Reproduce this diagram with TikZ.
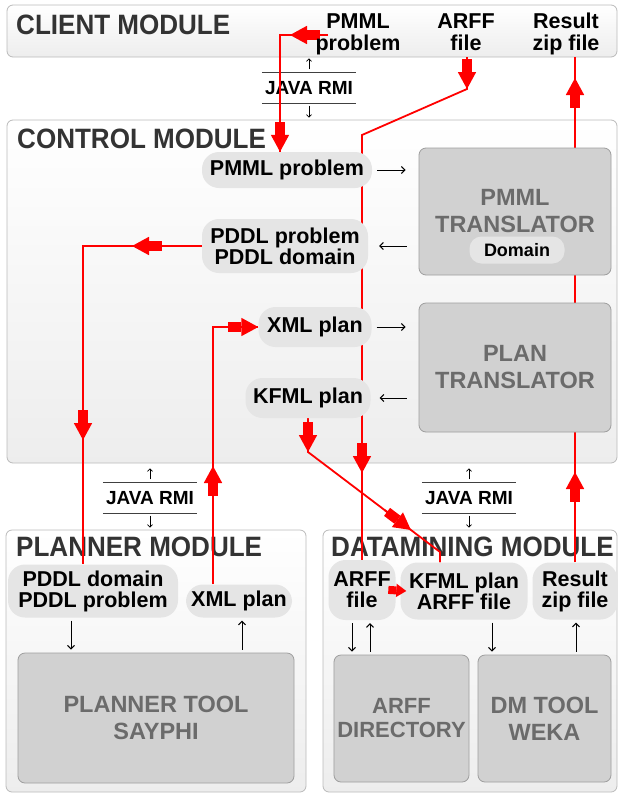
\documentclass[tikz,border=0pt]{standalone}
\usepackage{fontspec}
\setmainfont{Liberation Sans}
\newfontfamily\titlefont{Liberation Sans}[FakeStretch=0.93]
\usetikzlibrary{arrows.meta, positioning, calc}
\pgfdeclarelayer{back}
\pgfdeclarelayer{mid}
\pgfsetlayers{back,mid,main}

\begin{document}
\begin{tikzpicture}[
    x=1pt, y=-1pt,
    module/.style={draw=black!27, line width=0.8pt, rounded corners=6pt, top color=white, bottom color=black!7},
    modtitle/.style={anchor=west, inner sep=0pt, text=black!80, font=\titlefont\fontsize{28}{28}\selectfont\bfseries},
    plain/.style={align=center, inner sep=0pt, font=\fontsize{21.5}{22}\selectfont\bfseries},
    bubble/.style={fill=black!10, rounded corners=17pt, align=center, inner sep=2pt, font=\fontsize{21.5}{21}\selectfont\bfseries},
    tool/.style={draw=black!38, fill=black!18, line width=0.8pt, rounded corners=7pt, align=center, text=black!58, font=\fontsize{23.5}{27}\selectfont\bfseries},
    rmi/.style={minimum width=94pt, minimum height=31pt, inner sep=0pt, font=\fontsize{19}{19}\selectfont\bfseries},
    wire/.style={red, line width=1.8pt},
    fat/.style={red, line width=1.8pt, -{Rectangle[length=13pt,width=10pt,sep=0pt]Triangle[length=17pt,width=18pt]}},
    flow/.style={line width=1pt, shorten <=3pt, shorten >=3pt, -{Straight Barb[length=3.5pt,width=7pt]}},
    tick/.style={line width=0.8pt, -{Straight Barb[length=2.5pt,width=5pt]}}
]
\useasboundingbox (0,0) rectangle (619,793);

\begin{pgfonlayer}{back}
\node[module, minimum width=610pt, minimum height=52pt] (client) at (312,31) {};
\node[module, minimum width=610pt, minimum height=343pt] (control) at (312,291.5) {};
\node[module, minimum width=300pt, minimum height=262pt] (planner) at (156,661) {};
\node[module, minimum width=294pt, minimum height=262pt] (dmining) at (470,661) {};
\node[modtitle] (clientT) at (16,25) {CLIENT MODULE};
\node[modtitle] (controlT) at (17,139) {CONTROL MODULE};
\node[modtitle] (plannerT) at (16,547) {PLANNER MODULE};
\node[modtitle] (dminingT) at (331,547) {DATAMINING MODULE};
\node[rmi] (rmiT) at (309,88) {JAVA RMI};
\node[rmi] (rmiL) at (150,498) {JAVA RMI};
\node[rmi] (rmiR) at (469,498) {JAVA RMI};
\foreach \r in {rmiT,rmiL,rmiR} {
  \draw[black!75, line width=1pt] (\r.north west) -- (\r.north east) (\r.south west) -- (\r.south east);
  \draw[tick] ([yshift=3pt]\r.north) -- ++(0,-11);
  \draw[tick] ([yshift=-2pt]\r.south) -- ++(0,12);
}
\end{pgfonlayer}

\node[plain] (pmmlCl) at (358,34) {PMML\\problem};
\node[plain] (arffCl) at (466,32) {ARFF\\file};
\node[plain] (resCl) at (566,34) {Result\\zip file};

\node[bubble, minimum width=170pt, minimum height=36pt] (pmmlP) at (287,170) {PMML problem};
\node[bubble, minimum width=166pt, minimum height=54pt] (pddl) at (285,246) {PDDL problem\\PDDL domain};
\node[bubble, minimum width=113pt, minimum height=40pt] (xmlC) at (315,327) {XML plan};
\node[bubble, minimum width=125pt, minimum height=40pt] (kfmlC) at (308,398) {KFML plan};
\node[tool, minimum width=192pt, minimum height=127pt] (pmmlT) at (515,211.5) {PMML\\TRANSLATOR};
\node[bubble, minimum width=95pt, minimum height=27pt, rounded corners=12pt, font=\fontsize{18}{18}\selectfont\bfseries] (domain) at (517,250) {Domain};
\node[tool, minimum width=192pt, minimum height=129pt] (planT) at (515,367.5) {PLAN\\TRANSLATOR};

\node[bubble, minimum width=170pt, minimum height=53pt] (pddlP) at (93,591) {PDDL domain\\PDDL problem};
\node[bubble, minimum width=106pt, minimum height=33pt] (xmlP) at (239,601) {XML plan};
\node[tool, minimum width=276pt, minimum height=130pt] (sayphi) at (156,718) {PLANNER TOOL\\SAYPHI};

\node[bubble, minimum width=67pt, minimum height=60pt] (arffD) at (362,590) {ARFF\\file};
\node[bubble, minimum width=127pt, minimum height=57pt] (kfmlD) at (464,591) {KFML plan\\ARFF file};
\node[bubble, minimum width=85pt, minimum height=57pt] (resD) at (575,591) {Result\\zip file};
\node[tool, minimum width=133pt, minimum height=127pt, font=\fontsize{22}{24}\selectfont\bfseries] (arffdir) at (401.5,718.5) {ARFF\\DIRECTORY};
\node[tool, minimum width=133pt, minimum height=127pt] (weka) at (544.5,718.5) {DM TOOL\\WEKA};

\begin{pgfonlayer}{mid}
% client -> control
\coordinate (pS) at (328,35);
\coordinate (pA) at (280,35);
\draw[wire] (pS) -- (pA) -- (pA |- pmmlP.north);
\draw[fat] (pS) -- ++(-38,0);
\draw[fat] (280,118) -- (pA |- pmmlP.north);
\coordinate (aS) at (467,57);
\coordinate (aA) at (467,89);
\coordinate (aB) at (362,135);
\draw[wire] (aS) -- (aA) -- (aB) -- (aB |- arffD.north);
\draw[fat] (aS) -- (aA);
\draw[fat] (362,444) -- (362,473);
\coordinate (rS) at (575,57);
\draw[wire] (resD.north) -- (rS);
\draw[fat] (575,112) -- (575,78);
\draw[fat] (575,498) -- (575,472);
% control <-> planner
\coordinate (dA) at (83,246);
\draw[wire] (pddl.west) -- (dA) -- (dA |- pddlP.north);
\draw[fat] (165,246) -- (132,246);
\draw[fat] (83,412) -- (83,440);
\coordinate (xA) at (213,327);
\draw[wire] (xA |- xmlP.north) -- (xA) -- (xmlC.west);
\draw[fat] (213,495) -- (213,466);
\draw[fat] (220,327) -- (xmlC.west);
% control -> datamining
\coordinate (kA) at (308,452);
\coordinate (kB) at (440,552);
\draw[wire] (kfmlC.south) -- (kA) -- (kB) -- (kB |- kfmlD.north);
\draw[fat] (kfmlC.south) -- (kA);
\draw[fat] ($(kA)!0.58!(kB)$) -- ($(kA)!0.78!(kB)$);
\end{pgfonlayer}

\draw[red, line width=1.5pt, -{Rectangle[length=8pt,width=8pt,sep=0pt]Triangle[length=10pt,width=13pt]}] ([xshift=-6pt]arffD.east) -- ([xshift=6pt]kfmlD.west);

\draw[flow, shorten <=5pt, shorten >=13pt] (pmmlP.east) -- (pmmlP.east -| pmmlT.west);
\draw[flow, shorten <=12pt, shorten >=11pt] (pmmlT.west |- pddl.east) -- (pddl.east);
\draw[flow, shorten <=5pt, shorten >=13pt] (xmlC.east) -- (xmlC.east -| planT.west);
\draw[flow, shorten <=12pt, shorten >=9pt] (planT.west |- kfmlC.east) -- (kfmlC.east);
\draw[flow] (71,0 |- pddlP.south) -- (71,0 |- sayphi.north);
\draw[flow] (242,0 |- sayphi.north) -- (242,0 |- xmlP.south);
\draw[flow] (352,0 |- arffD.south) -- (352,0 |- arffdir.north);
\draw[flow] (370,0 |- arffdir.north) -- (370,0 |- arffD.south);
\draw[flow] (492,0 |- kfmlD.south) -- (492,0 |- weka.north);
\draw[flow] (576,0 |- weka.north) -- (576,0 |- resD.south);
\end{tikzpicture}
\end{document}
